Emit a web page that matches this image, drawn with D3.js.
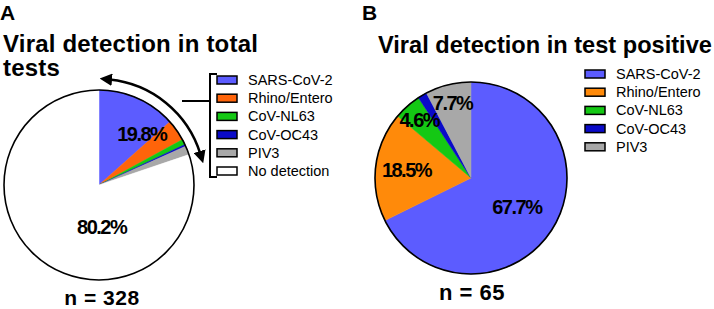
<!DOCTYPE html>
<html lang="en">
<head>
    <meta charset="UTF-8">
    <title>Viral detection</title>
    <script src="https://d3js.org/d3.v7.min.js"></script>
    <style>
        body {
            margin: 0;
            padding: 0;
            background-color: #fff;
        }
        svg text {
            font-family: 'Liberation Sans', Arial, sans-serif;
            fill: #000;
        }
        .pct {
            font-weight: bold;
            font-size: 20px;
            letter-spacing: -1.5px;
        }
        .legend text {
            font-size: 14.5px;
        }
    </style>
</head>
<body>
    <div id="chart"></div>
    <script>
        // data
        const virusesA = ["SARS-CoV-2", "Rhino/Entero", "CoV-NL63", "CoV-OC43", "PIV3", "No detection"];
        const countsA = [44, 12, 3, 1, 5, 263];
        const virusesB = ["SARS-CoV-2", "Rhino/Entero", "CoV-NL63", "CoV-OC43", "PIV3"];
        const countsB = [44, 12, 3, 1, 5];
        const totalA = 328;
        const totalB = 65;

        const colorsA = ["#5c5cff", "#ff640a", "#14c814", "#0a0ac8", "#a8a8a8", "#ffffff"];
        const colorsB = ["#5c5cff", "#ff8a0a", "#14c814", "#0a0ac8", "#a8a8a8"];

        const width = 714, height = 309;
        const fmt = d3.format(".1f");

        const svg = d3.select("#chart").append("svg")
            .attr("width", width)
            .attr("height", height);

        svg.append("rect").attr("width", width).attr("height", height).attr("fill", "#fff");

        const pie = d3.pie().sort(null).value(d => d);

        function drawPie(cx, cy, r, counts, colors) {
            const g = svg.append("g").attr("transform", `translate(${cx},${cy})`);
            const arc = d3.arc().innerRadius(0).outerRadius(r);
            g.selectAll("path.slice")
                .data(pie(counts))
                .join("path")
                .attr("class", "slice")
                .attr("d", arc)
                .attr("fill", (d, i) => colors[i])
                .attr("stroke", (d, i) => colors[i])
                .attr("stroke-width", 0.5);
            g.append("circle")
                .attr("r", r)
                .attr("fill", "none")
                .attr("stroke", "#000")
                .attr("stroke-width", 1.6);
            return g;
        }

        // label at angle (radians from 12 o'clock, clockwise) and distance
        function labelAt(g, angle, dist, text) {
            g.append("text")
                .attr("class", "pct")
                .attr("x", dist * Math.sin(angle))
                .attr("y", -dist * Math.cos(angle))
                .attr("dy", "0.36em")
                .attr("text-anchor", "middle")
                .text(text);
        }

        function legend(x, y, names, colors) {
            const lg = svg.append("g").attr("class", "legend").attr("transform", `translate(${x},${y})`);
            const row = lg.selectAll("g").data(names).join("g")
                .attr("transform", (d, i) => `translate(0,${i * 18.2})`);
            row.append("rect")
                .attr("x", 0).attr("y", -4)
                .attr("width", 20).attr("height", 8)
                .attr("fill", (d, i) => colors[i])
                .attr("stroke", "#000")
                .attr("stroke-width", 1.5);
            row.append("text")
                .attr("x", 31).attr("y", 5)
                .text(d => d);
        }

        // ---- panel A ----
        svg.append("text").attr("x", 0).attr("y", 20)
            .style("font-size", "21px").style("font-weight", "bold").text("A");
        const tA = svg.append("text").attr("x", 3).attr("y", 52)
            .style("font-size", "24px").style("font-weight", "bold").style("letter-spacing", "0.2px");
        tA.append("tspan").attr("x", 3).text("Viral detection in total");
        tA.append("tspan").attr("x", 3).attr("y", 76).text("tests");

        const gA = drawPie(99, 185, 95, countsA, colorsA);
        const posA = d3.sum(countsA.slice(0, 5));
        const posAngle = 2 * Math.PI * posA / totalA;
        labelAt(gA, posAngle / 2 + 0.07, 67, fmt(100 * posA / totalA) + "%");
        labelAt(gA, Math.PI * 0.98, 42, fmt(100 * countsA[5] / totalA) + "%");

        // curved double arrow around the positive part
        const defs = svg.append("defs");
        defs.append("marker")
            .attr("id", "head")
            .attr("viewBox", "0 0 10 10")
            .attr("refX", 2).attr("refY", 5)
            .attr("markerWidth", 5).attr("markerHeight", 5)
            .attr("markerUnits", "strokeWidth")
            .attr("orient", "auto-start-reverse")
            .append("path").attr("d", "M0,0L10,5L0,10z").attr("fill", "#000");
        const a0 = 0.1, a1 = 1.27, rr = 106;
        gA.append("path")
            .attr("d", `M${rr * Math.sin(a0)},${-rr * Math.cos(a0)}A${rr},${rr} 0 0 1 ${rr * Math.sin(a1)},${-rr * Math.cos(a1)}`)
            .attr("fill", "none")
            .attr("stroke", "#000")
            .attr("stroke-width", 2.5)
            .attr("marker-start", "url(#head)")
            .attr("marker-end", "url(#head)");

        // bracket
        svg.append("path")
            .attr("d", "M217,74H210V177H217M182,101H210")
            .attr("fill", "none")
            .attr("stroke", "#000")
            .attr("stroke-width", 2);

        legend(217, 80, virusesA, colorsA);

        svg.append("text").attr("x", 102).attr("y", 305)
            .attr("text-anchor", "middle")
            .style("font-size", "21px").style("font-weight", "bold").style("letter-spacing", "0.5px")
            .text("n = " + totalA);

        // ---- panel B ----
        svg.append("text").attr("x", 362).attr("y", 20)
            .style("font-size", "21px").style("font-weight", "bold").text("B");
        svg.append("text").attr("x", 378).attr("y", 53)
            .style("font-size", "23.6px").style("font-weight", "bold")
            .text("Viral detection in test positive");

        const gB = drawPie(471, 178, 96, countsB, colorsB);
        const arcsB = pie(countsB);
        const labelDist = [54, 65, 78, null, 77];
        arcsB.forEach((d, i) => {
            if (labelDist[i] === null) return;
            labelAt(gB, (d.startAngle + d.endAngle) / 2, labelDist[i], fmt(100 * countsB[i] / totalB) + "%");
        });

        legend(585, 74, virusesB, colorsB);

        svg.append("text").attr("x", 472).attr("y", 300)
            .attr("text-anchor", "middle")
            .style("font-size", "22px").style("font-weight", "bold").style("letter-spacing", "0.5px")
            .text("n = " + totalB);
    </script>
</body>
</html>
